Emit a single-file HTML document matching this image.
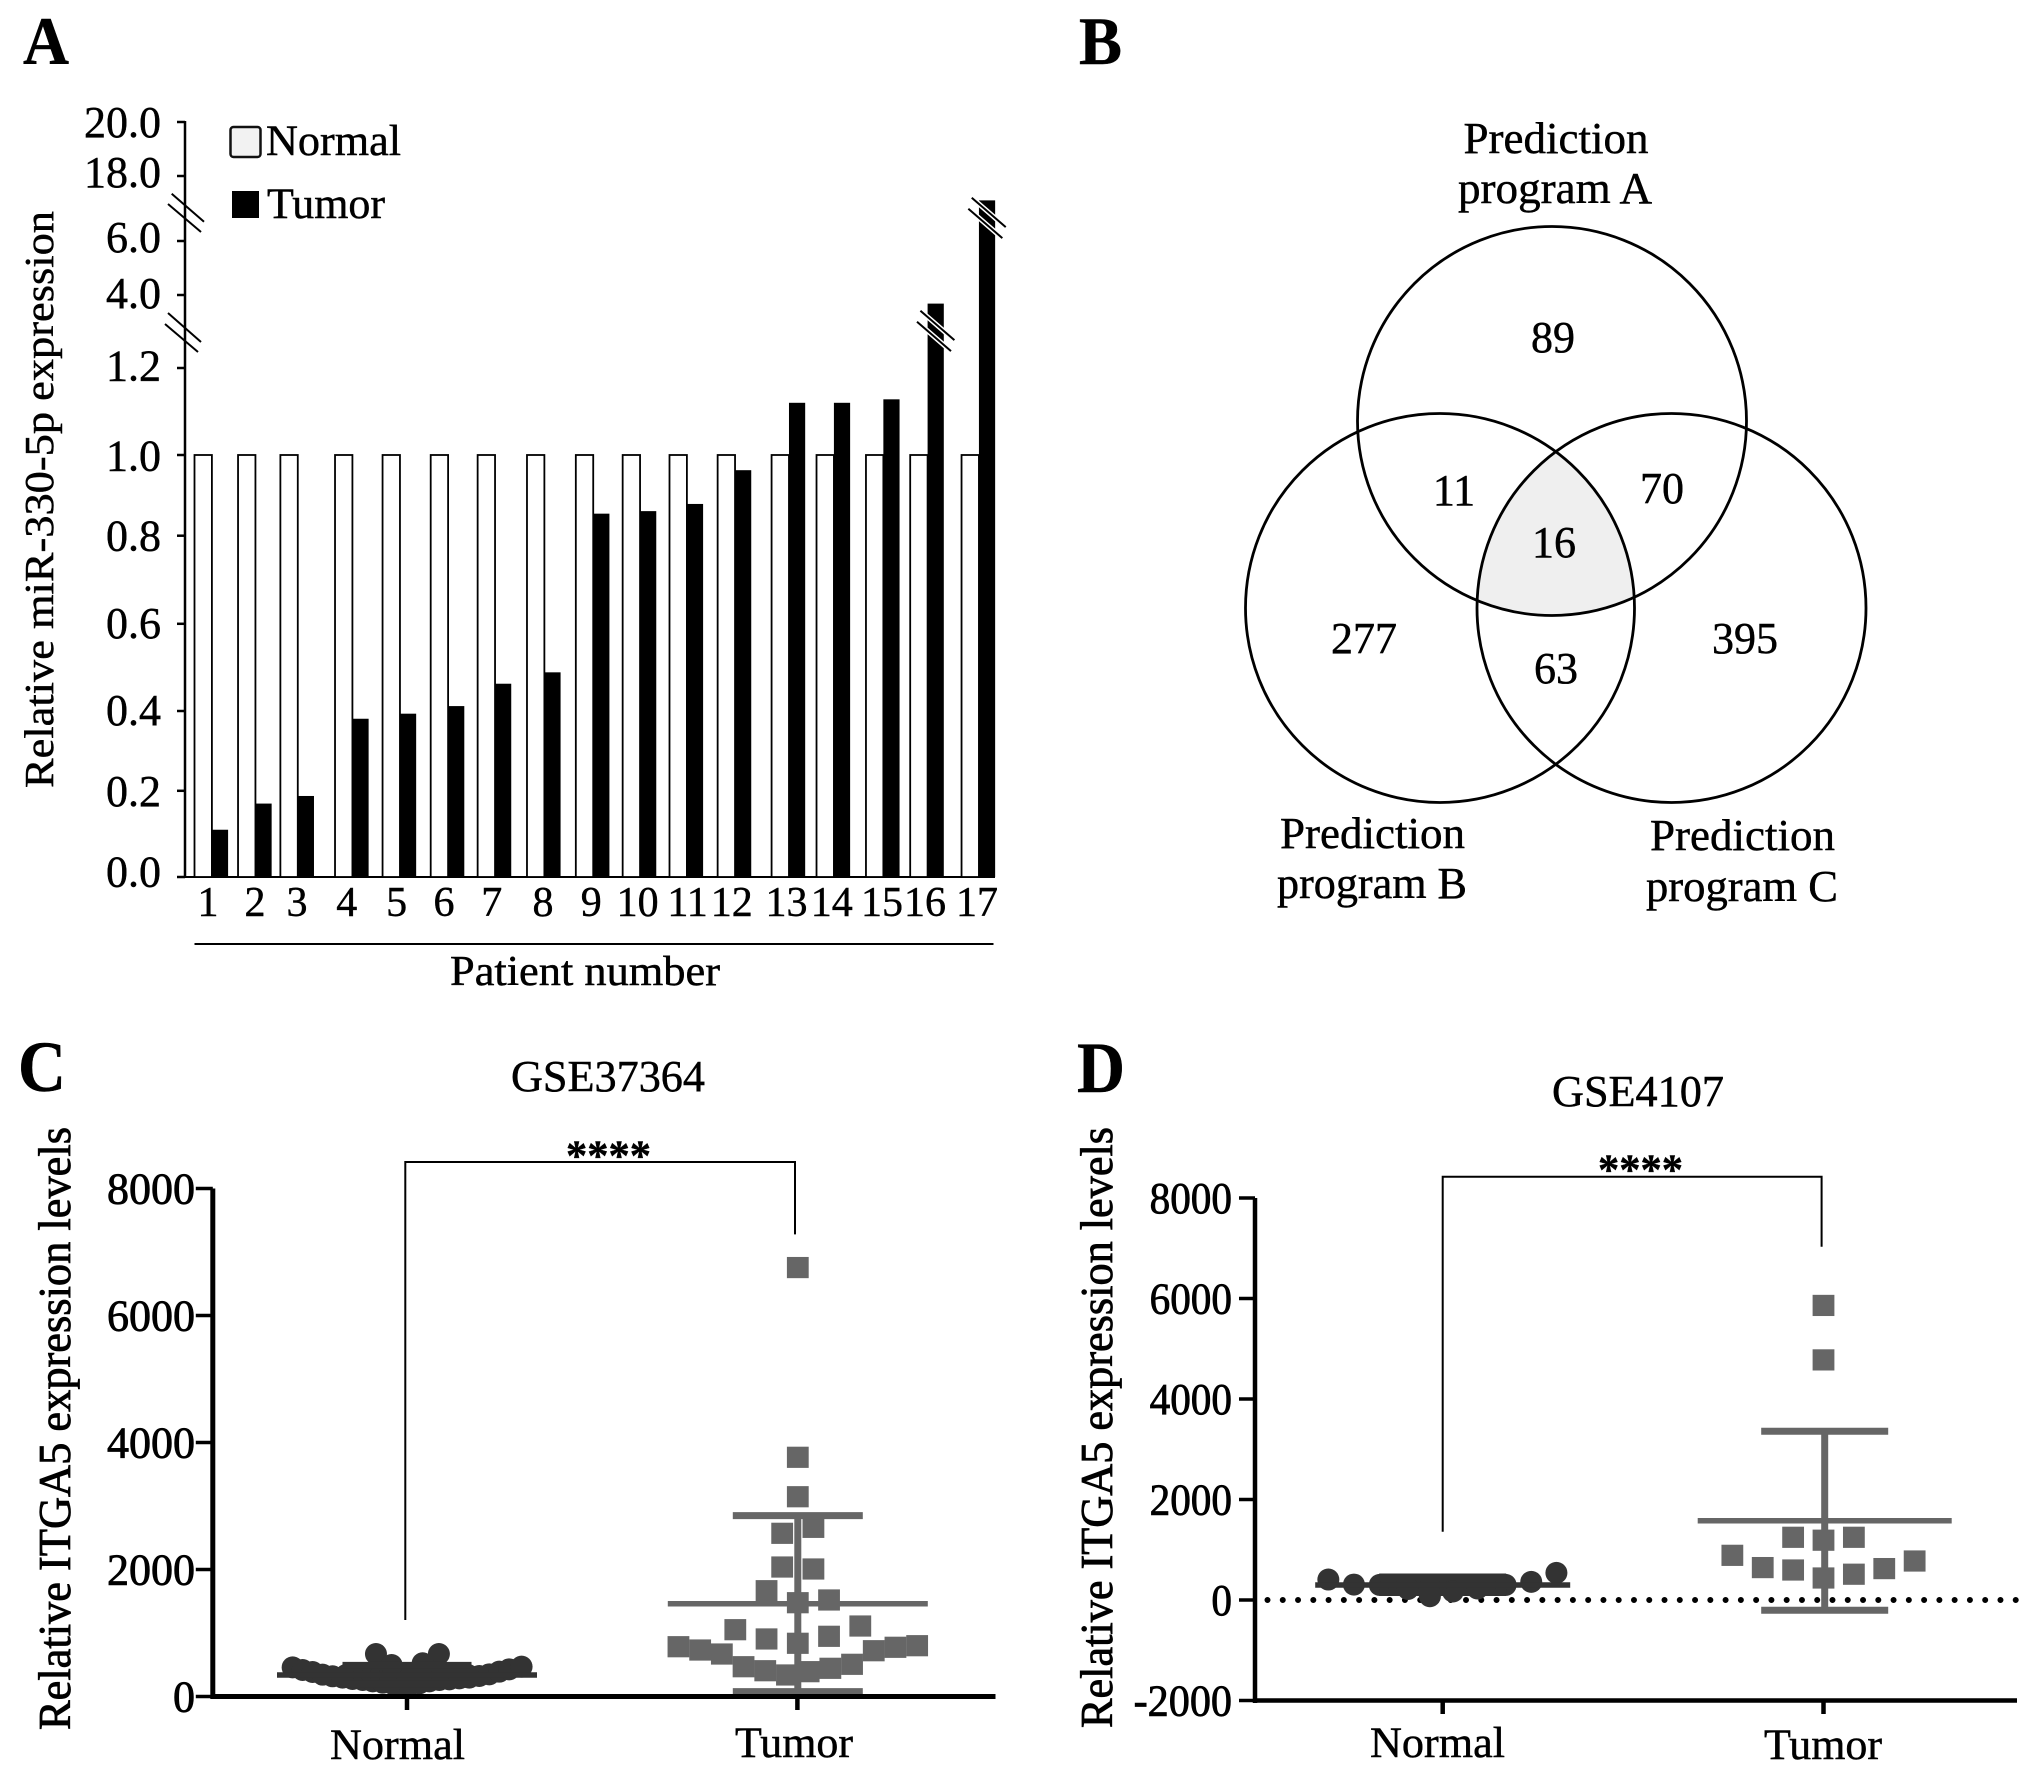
<!DOCTYPE html>
<html lang="en">
<head>
<meta charset="utf-8">
<title>miR-330-5p and ITGA5 expression figure</title>
<style>
html,body{margin:0;padding:0;background:#fff;}
svg{display:block;}
text{font-family:"Liberation Serif",serif;fill:#000;stroke:#000;stroke-width:.45px;}
.panel-letter{font-weight:700;font-size:68px;}
.panel-letter-tall{font-weight:700;font-size:72px;}
.tick-a{font-size:44px;}
.venn-text{font-size:44px;}
.plot-text{font-size:44px;stroke-width:.8px;}
.axis-title{font-size:46px;stroke-width:.8px;}
</style>
</head>
<body>
<svg id="figure" xmlns="http://www.w3.org/2000/svg" width="2031" height="1772" viewBox="0 0 2031 1772">
  <rect x="0" y="0" width="2031" height="1772" fill="#fff"/>

  <!-- Panel A -->
  <g id="panel-a">
    <text class="panel-letter" x="23" y="64" textLength="46" lengthAdjust="spacingAndGlyphs">A</text>
    <text font-size="41" x="53" y="788" transform="rotate(-90 53 788)" textLength="577" lengthAdjust="spacingAndGlyphs">Relative miR-330-5p expression</text>
    <line x1="185" y1="121" x2="185" y2="878" stroke="#000" stroke-width="2.5"/>
    <line x1="185" y1="877" x2="995" y2="877" stroke="#000" stroke-width="2"/>
    <g stroke="#000" stroke-width="2">
      <line x1="171.7" y1="193.7" x2="204" y2="221.7"/>
      <line x1="168" y1="204" x2="201" y2="232"/>
    </g>
    <g stroke="#000" stroke-width="2">
      <line x1="168" y1="313" x2="201" y2="342"/>
      <line x1="165" y1="324" x2="198" y2="352"/>
    </g>
    <g id="a-marks"></g>
    <g>
      <rect x="230.5" y="127" width="30" height="30" rx="3" fill="#f2f2f2" stroke="#111" stroke-width="2.5"/>
      <text font-size="43" x="266" y="155" textLength="135" lengthAdjust="spacingAndGlyphs">Normal</text>
      <rect x="232" y="191" width="27" height="27" fill="#000"/>
      <text font-size="43" x="267" y="218" textLength="118" lengthAdjust="spacingAndGlyphs">Tumor</text>
    </g>
    <line x1="194.5" y1="944" x2="993.5" y2="944" stroke="#000" stroke-width="2"/>
    <text font-size="42" x="450" y="985" textLength="270" lengthAdjust="spacingAndGlyphs">Patient number</text>
  </g>

  <!-- Panel B -->
  <g id="panel-b">
    <defs>
      <clipPath id="clip-venn-a"><circle cx="1552" cy="421" r="194.5"/></clipPath>
      <clipPath id="clip-venn-b"><circle cx="1440" cy="608" r="194.5"/></clipPath>
    </defs>
    <text class="panel-letter" x="1079" y="64" textLength="43" lengthAdjust="spacingAndGlyphs">B</text>
    <g clip-path="url(#clip-venn-a)">
      <g clip-path="url(#clip-venn-b)">
        <circle cx="1671.5" cy="608" r="194.5" fill="#efefef"/>
      </g>
    </g>
    <circle cx="1552" cy="421" r="194.5" fill="none" stroke="#000" stroke-width="2.8"/>
    <circle cx="1440" cy="608" r="194.5" fill="none" stroke="#000" stroke-width="2.8"/>
    <circle cx="1671.5" cy="608" r="194.5" fill="none" stroke="#000" stroke-width="2.8"/>
    <g class="venn-text" text-anchor="middle">
      <text x="1553" y="352">89</text>
      <text x="1454" y="505">11</text>
      <text x="1662" y="503">70</text>
      <text x="1554" y="557">16</text>
      <text x="1364" y="653">277</text>
      <text x="1745" y="653">395</text>
      <text x="1556" y="683">63</text>
    </g>
    <g class="venn-text">
      <text x="1463.5" y="153" textLength="185" lengthAdjust="spacingAndGlyphs">Prediction</text>
      <text x="1458" y="203" textLength="194" lengthAdjust="spacingAndGlyphs">program A</text>
      <text x="1280" y="848" textLength="185" lengthAdjust="spacingAndGlyphs">Prediction</text>
      <text x="1277" y="898" textLength="190" lengthAdjust="spacingAndGlyphs">program B</text>
      <text x="1650" y="850" textLength="185" lengthAdjust="spacingAndGlyphs">Prediction</text>
      <text x="1646" y="901" textLength="192" lengthAdjust="spacingAndGlyphs">program C</text>
    </g>
  </g>

  <!-- Panel C -->
  <g id="panel-c">
    <text class="panel-letter-tall" x="18" y="1091" textLength="48" lengthAdjust="spacingAndGlyphs">C</text>
    <text font-size="44" x="511" y="1091" textLength="194" lengthAdjust="spacingAndGlyphs">GSE37364</text>
    <text class="axis-title" x="70" y="1730" transform="rotate(-90 70 1730)" textLength="603" lengthAdjust="spacingAndGlyphs">Relative ITGA5 expression levels</text>
    <path d="M405.3 1620V1162H795V1234.4" fill="none" stroke="#000" stroke-width="2"/>
    <text font-size="43" font-weight="700" x="566" y="1170" textLength="85" lengthAdjust="spacingAndGlyphs">****</text>
    <g id="c-marks"></g>
    <g id="c-axes"></g>
    <text font-size="43" x="330" y="1759" textLength="135" lengthAdjust="spacingAndGlyphs">Normal</text>
    <text font-size="43" x="735" y="1757" textLength="118" lengthAdjust="spacingAndGlyphs">Tumor</text>
  </g>

  <!-- Panel D -->
  <g id="panel-d">
    <text class="panel-letter-tall" x="1077" y="1092" textLength="48" lengthAdjust="spacingAndGlyphs">D</text>
    <text font-size="44" x="1552" y="1106" textLength="172" lengthAdjust="spacingAndGlyphs">GSE4107</text>
    <text class="axis-title" x="1112" y="1728" transform="rotate(-90 1112 1728)" textLength="601" lengthAdjust="spacingAndGlyphs">Relative ITGA5 expression levels</text>
    <path d="M1442.7 1531.7V1176.7H1821.6V1246.8" fill="none" stroke="#000" stroke-width="2"/>
    <text font-size="43" font-weight="700" x="1598" y="1184" textLength="85" lengthAdjust="spacingAndGlyphs">****</text>
    <line x1="1267.5" y1="1600" x2="2031" y2="1600" stroke="#000" stroke-width="6" stroke-linecap="round" stroke-dasharray="0 15.27"/>
    <g id="d-marks"></g>
    <g id="d-axes"></g>
    <text font-size="43" x="1370" y="1757" textLength="135" lengthAdjust="spacingAndGlyphs">Normal</text>
    <text font-size="43" x="1764" y="1759" textLength="118" lengthAdjust="spacingAndGlyphs">Tumor</text>
  </g>
</svg>

<script>
/* ---------- Panel A data ---------- */
const patients = [1,2,3,4,5,6,7,8,9,10,11,12,13,14,15,16,17];
const normalValues = [1,1,1,1,1,1,1,1,1,1,1,1,1,1,1,1,1];
const tumorValues = [0.112,0.174,0.192,0.375,0.387,0.405,0.458,0.485,0.861,0.867,0.884,0.964,1.12,1.12,1.128,3.67,13.5];
const brokenPatients = [16,17];
const brokenValues = [2.62,10.25];
const aTickValues = [0,0.2,0.4,0.6,0.8,1,1.2,4,6,18,20];
const aTickLabels = ['0.0','0.2','0.4','0.6','0.8','1.0','1.2','4.0','6.0','18.0','20.0'];

/* ---------- Panel C data ---------- */
const cTickValues = [0,2000,4000,6000,8000];
const cTickLabels = ['0','2000','4000','6000','8000'];
const cNormalValues = [459,417,386,344,318,297,276,260,239,218,197,171,176,207,239,260,270,286,297,323,349,391,428,470,
  340,340,340,340,340,340,340,340,340,340,340,340,340,340,340,669,669,496,523];
const cNormalOffsets = [-5.27,-4.81,-4.35,-3.89,-3.43,-2.97,-2.51,-2.04,-1.58,-1.12,-0.66,-0.2,0.11,0.57,1.03,1.49,1.95,2.41,2.87,3.33,3.79,4.25,4.71,5.28,
  -2.8,-2.4,-2,-1.6,-1.2,-0.8,-0.4,0,0.4,0.8,1.2,1.6,2,2.4,2.8,-1.43,1.47,-0.71,0.72];
const cNormalSummary = [339,490,190];
const cTumorValues = [6755,3767,3146,2570,2664,2039,2008,1666,1477,1520,1052,906,838,948,1110,784,732,669,469,406,339,391,444,507,721,775,800];
const cTumorOffsets = [0,0,0,-0.72,0.72,-0.72,0.72,-1.44,0,1.44,-2.88,-1.44,0,1.44,2.88,-5.5,-4.5,-3.5,-2.5,-1.5,-0.5,0.5,1.5,2.5,3.5,4.5,5.5];
const cTumorSummary = [1461,2848,76];

/* ---------- Panel D data ---------- */
const dTickValues = [-2000,0,2000,4000,6000,8000];
const dTickLabels = ['-2000','0','2000','4000','6000','8000'];
const dNormalValues = [407,307,300,300,300,300,300,300,300,300,300,300,300,300,300,300,300,300,300,75,170,220,230,361,540];
const dNormalOffsets = [-5.27,-4.09,-2.9,-2.64,-2.38,-2.01,-1.64,-1.27,-0.9,-0.53,-0.16,0.21,0.58,0.95,1.32,1.69,2.06,2.46,2.9,-0.59,0.47,-1.6,1.6,4.08,5.24];
const dNormalSummary = [298,457,150];
const dTumorValues = [5862,4778,1248,1190,1248,889,645,597,438,513,625,776];
const dTumorOffsets = [0,0,-1.4,0,1.4,-4.2,-2.8,-1.4,0,1.4,2.8,4.2];
const dTumorSummary = [1576,3357,-203];

/* ---------- helpers ---------- */
const SVG_NS = 'http://www.w3.org/2000/svg';
function add(parent, tag, attrs, text) {
  const el = document.createElementNS(SVG_NS, tag);
  for (const k in attrs) el.setAttribute(k, attrs[k]);
  if (text !== undefined) el.textContent = text;
  parent.appendChild(el);
  return el;
}

/* ---------- Panel A axes ---------- */
const aDomainStops = [0,1,1.2,4,6,18,20];
const aRangeStops = [877,455,368,295,241,176,122];
function yA(v) {
  for (let i = 1; i < aDomainStops.length; i++) {
    if (v <= aDomainStops[i] || i === aDomainStops.length - 1) {
      const t = (v - aDomainStops[i-1]) / (aDomainStops[i] - aDomainStops[i-1]);
      return aRangeStops[i-1] + t * (aRangeStops[i] - aRangeStops[i-1]);
    }
  }
}
function xA(i) {
  const slotNudge = [0,-4.4,-10,-3.3,-3.7,-3.5,-4.5,-3.1,-2.2,-3.3,-4.4,-4.2,1.8,-1.2,0.3,-3.4,0];
  return 194.5 + 47.94 * i + slotNudge[i];
}
function xLabelA(i) {
  const labelNudge = [-3.9,-0.4,-0.8,-5.7,-3.3,-4.1,-3.3,-1.4,-2,-2.4,0.7,-3.3,-2.5,-2.2,-1.4,-2.6,-2];
  return xA(i) + 17.4 + labelNudge[i];
}
function tickShiftA(i) {
  const shifts = [0,-1.8,2.8,0,-3.7,0,0,0,0,0,0];
  return shifts[i];
}
function tickLabelShiftA(i) {
  const shifts = [9.5,13.2,16.6,14,11.3,15.7,12.7,13.2,11,11,15];
  return shifts[i];
}

const aMarks = document.getElementById('a-marks');
aTickValues.forEach((v, i) => {
  const ty = yA(v) + tickShiftA(i);
  const tick = add(aMarks, 'line', {x1:177, x2:185, y1:ty, y2:ty, stroke:'#000', 'stroke-width':2.5});
  
  
  const label = add(aMarks, 'text', {class:'tick-a', x:161, y:yA(v) + tickLabelShiftA(i), 'text-anchor':'end'}, aTickLabels[i]);
  
  
});
patients.forEach((p, i) => {
  const nb = add(aMarks, 'rect', {x:xA(i), y:yA(normalValues[i]), width:17.4, height:yA(0) - yA(normalValues[i]), fill:'#fff', stroke:'#000', 'stroke-width':1.8});
  
  
  const tb = add(aMarks, 'rect', {x:xA(i) + 17.4, y:yA(tumorValues[i]), width:16.2, height:yA(0) - yA(tumorValues[i]), fill:'#000'});
  
  
  const label = add(aMarks, 'text', {x:xLabelA(i), y:916, 'font-size':42, 'text-anchor':'middle'}, String(p));
  
  
});
brokenPatients.forEach((p, k) => {
  const i = patients.indexOf(p);
  const cx = xA(i) + 17.4 + 8.1;
  const cy = yA(brokenValues[k]);
  [[1.7,-5.5],[-1.7,5.5]].forEach((o, j) => {
    const x1 = cx + o[0] - 17, x2 = cx + o[0] + 17, y1 = cy + o[1] - 14.7, y2 = cy + o[1] + 14.7;
    const halo = add(aMarks, 'line', {x1, y1, x2, y2, stroke:'#fff', 'stroke-width':5});
    
    
    const ln = add(aMarks, 'line', {x1, y1, x2, y2, stroke:'#000', 'stroke-width':2});
    
    
  });
});

/* ---------- Panels C and D ---------- */
const SWARM_UNIT = 21.7;
function yC(v) { return 1696.5 - v * 127 / 2000; }
function yD(v) { return 1600 - v * 100.5 / 2000; }

function drawSummary(host, key, group, cx, y, summary, color, meanHalf, capHalf) {
  const stem = add(host, 'line', {x1:cx, x2:cx, y1:y(summary[1]), y2:y(summary[2]), stroke:color, 'stroke-width':7});
  
  
  const up = add(host, 'line', {x1:cx - capHalf, x2:cx + capHalf, y1:y(summary[1]), y2:y(summary[1]), stroke:color, 'stroke-width':7});
  
  
  const low = add(host, 'line', {x1:cx - capHalf, x2:cx + capHalf, y1:y(summary[2]), y2:y(summary[2]), stroke:color, 'stroke-width':7});
  
  
  const mean = add(host, 'line', {x1:cx - meanHalf, x2:cx + meanHalf, y1:y(summary[0]), y2:y(summary[0]), stroke:color, 'stroke-width':5.5});
  
  
}
function drawCircles(host, key, cx, y, values, offsets) {
  values.forEach((v, i) => {
    const c = add(host, 'circle', {cx:cx + offsets[i] * SWARM_UNIT, cy:y(v), r:11, fill:'#333'});
    
    
  });
}
function drawSquares(host, key, cx, y, values, offsets) {
  values.forEach((v, i) => {
    const s = add(host, 'rect', {x:cx + offsets[i] * SWARM_UNIT - 10.9, y:y(v) - 10.6, width:21.8, height:21.2, fill:'#666'});
    
    
  });
}
function drawAxes(host, key, y, tickValues, tickLabels, cfg) {
  const ya = add(host, 'line', {x1:cfg.axisX, x2:cfg.axisX, y1:y(cfg.top), y2:y(cfg.bottom) + 2.5, stroke:'#000', 'stroke-width':cfg.thick});
  
  
  const xa = add(host, 'line', {x1:cfg.axisX, x2:cfg.endX, y1:y(cfg.bottom), y2:y(cfg.bottom), stroke:'#000', 'stroke-width':cfg.thick});
  
  
  tickValues.forEach((v, i) => {
    const t = add(host, 'line', {x1:cfg.axisX - cfg.tickLen, x2:cfg.axisX, y1:y(v), y2:y(v), stroke:'#000', 'stroke-width':3.5});
    
    
    const s = tickLabels[i];
    const w = s.charAt(0) === '-' ? cfg.digit * 4 + 16 : cfg.digit * s.length;
    const l = add(host, 'text', {class:'plot-text', x:cfg.labelRight - w, y:y(v) + 15, 'font-size':44, textLength:w, lengthAdjust:'spacingAndGlyphs'}, s);
    
    
  });
  cfg.groupX.forEach((gx, i) => {
    const t = add(host, 'line', {x1:gx, x2:gx, y1:y(cfg.bottom), y2:cfg.tickEnd, stroke:'#000', 'stroke-width':4.5});
    
    
  });
}

const cMarks = document.getElementById('c-marks');
drawSquares(cMarks, 'c', 797.8, yC, cTumorValues, cTumorOffsets);
drawSummary(cMarks, 'c', 'tumor', 797.8, yC, cTumorSummary, '#666', 130, 65);
drawCircles(cMarks, 'c', 407, yC, cNormalValues, cNormalOffsets);
drawSummary(cMarks, 'c', 'normal', 407, yC, cNormalSummary, '#333', 130, 64.5);
drawAxes(document.getElementById('c-axes'), 'c', yC, cTickValues, cTickLabels,
  {axisX:212.8, endX:995.5, top:8000, bottom:0, thick:5, tickLen:17, digit:22, labelRight:195, groupX:[407,797.4], tickEnd:1710});

const dMarks = document.getElementById('d-marks');
drawSquares(dMarks, 'd', 1823.5, yD, dTumorValues, dTumorOffsets);
drawSummary(dMarks, 'd', 'tumor', 1824.7, yD, dTumorSummary, '#666', 127, 63.5);
drawCircles(dMarks, 'd', 1442.7, yD, dNormalValues, dNormalOffsets);
drawSummary(dMarks, 'd', 'normal', 1442.7, yD, dNormalSummary, '#333', 127.5, 63.5);
drawAxes(document.getElementById('d-axes'), 'd', yD, dTickValues, dTickLabels,
  {axisX:1255, endX:2017, top:8000, bottom:-2000, thick:4.5, tickLen:16, digit:20.6, labelRight:1232, groupX:[1442.7,1823.5], tickEnd:1714});
</script>
</body>
</html>
